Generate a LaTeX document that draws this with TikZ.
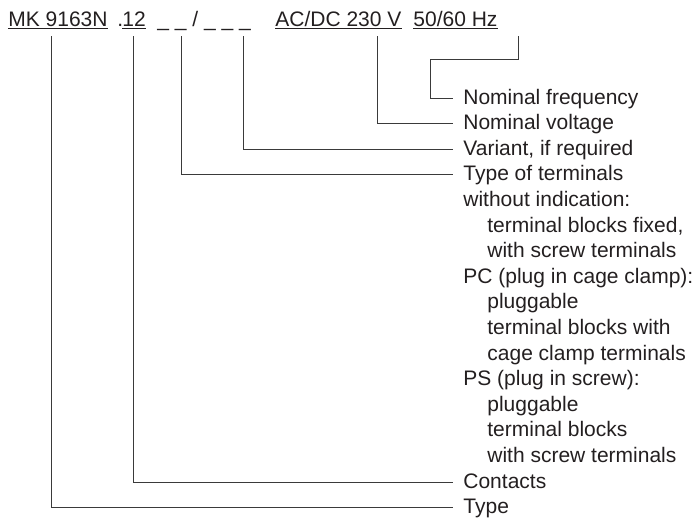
\documentclass[tikz,border=0pt]{standalone}
\usepackage{fontspec}
\setmainfont{Liberation Sans}
\usepackage{tikz}
\definecolor{inkgray}{HTML}{231F20}
\definecolor{linegray}{HTML}{3A3A3A}
\newcommand{\lblfont}{\fontsize{10.5}{12.8}\selectfont}
\tikzset{
  lbl/.style    = {anchor=west,inner sep=0pt,text height=8pt,text depth=2pt,font=\lblfont,text=inkgray},
  code/.style   = {anchor=base west,inner sep=0pt,font=\lblfont,text=inkgray},
  leader/.style = {draw=linegray,line width=0.5pt},
  uline/.style  = {draw=inkgray,line width=0.5pt}
}
\begin{document}
\begin{tikzpicture}[x=0.5pt,y=-0.5pt]
  \useasboundingbox (0,0) rectangle (698,520);
  % order code
  \node[code] (mk)   at (8,26)   {MK 9163N};
  \node[code] (dot)  at (117,26) {.};
  \node[code] (cont) at (122,26) {12};
  \node[code] (var)  at (157,26) {\_ \_ / \_ \_ \_};
  \node[code] (volt) at (275,26) {AC/DC 230 V};
  \node[code] (freq) at (413,26) {50/60 Hz};
  \foreach \n in {mk,cont,volt,freq}
    \draw[uline] ([yshift=-1.3pt]\n.base west) -- ([yshift=-1.3pt]\n.base east);
  % leader start points
  \coordinate (tType) at (51,36);
  \coordinate (tCont) at (133,36);
  \coordinate (tTerm) at (181,36);
  \coordinate (tVar)  at (243,36);
  \coordinate (tVolt) at (377,36);
  \coordinate (tFreq) at (518,36);
  % descriptions
  \node[lbl] (lFreq) at (463,98)    {Nominal frequency};
  \node[lbl] (lVolt) at (463,123.6) {Nominal voltage};
  \node[lbl] (lVar)  at (463,149.2) {Variant, if required};
  \node[lbl] (lTerm) at (463,174.8) {Type of terminals};
  \foreach \row/\ind/\txt in {4/0/{without indication:},5/1/{terminal blocks fixed,},
      6/1/{with screw terminals},7/0/{PC (plug in cage clamp):},8/1/{pluggable},
      9/1/{terminal blocks with},10/1/{cage clamp terminals},11/0/{PS (plug in screw):},
      12/1/{pluggable},13/1/{terminal blocks},14/1/{with screw terminals}}
    \node[lbl] at (463+24*\ind,98+25.6*\row) {\txt};
  \node[lbl] (lCont) at (463,482)   {Contacts};
  \node[lbl] (lType) at (463,507.6) {Type};
  % leaders
  \draw[leader] (tType) |- ([xshift=-5pt]lType.west);
  \draw[leader] (tCont) |- ([xshift=-5pt]lCont.west);
  \draw[leader] (tTerm) |- ([xshift=-5pt]lTerm.west);
  \draw[leader] (tVar)  |- ([xshift=-5pt]lVar.west);
  \draw[leader] (tVolt) |- ([xshift=-5pt]lVolt.west);
  \draw[leader] (tFreq) -- (518,59) -- (430,59) |- ([xshift=-5pt]lFreq.west);
\end{tikzpicture}
\end{document}
